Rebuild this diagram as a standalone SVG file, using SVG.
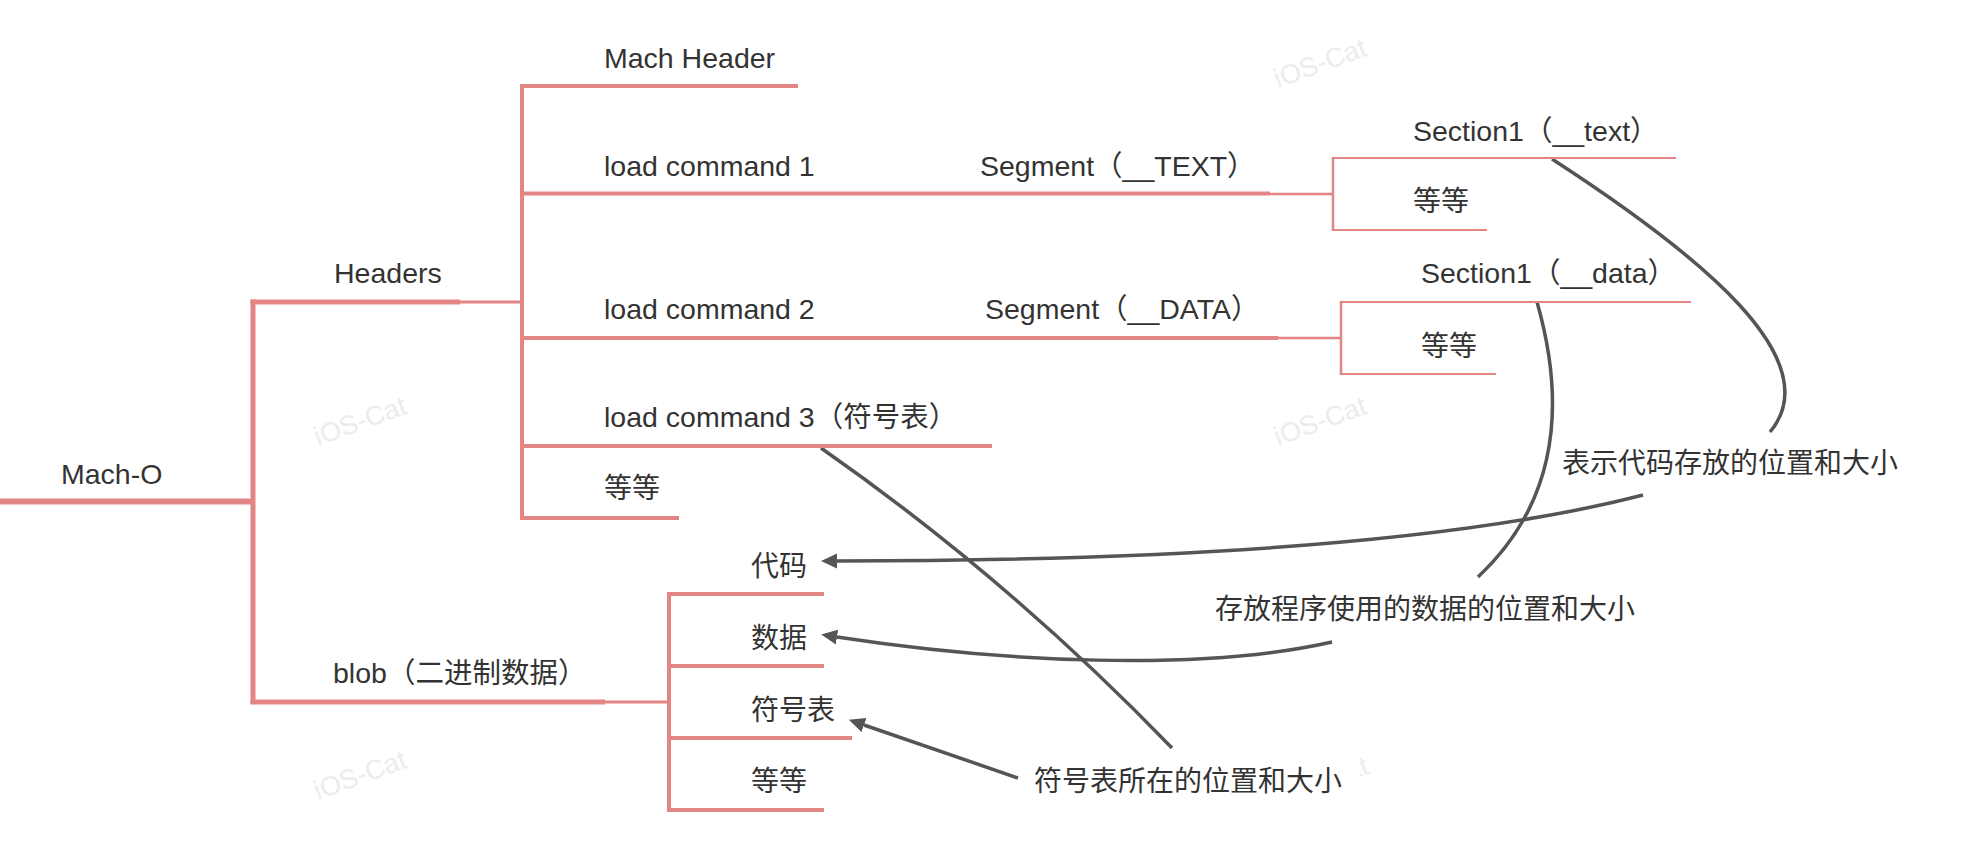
<svg xmlns="http://www.w3.org/2000/svg" width="1966" height="864" viewBox="0 0 1966 864">
<defs>
<style>
.t{font-family:"Liberation Sans","Noto Sans CJK SC",sans-serif;font-size:28.5px;fill:#333333}
.c{font-family:"Noto Sans CJK SC","Liberation Sans",sans-serif;font-size:28px;fill:#333333}
.lb{font-family:"Noto Sans CJK SC","Liberation Sans",sans-serif;font-size:28px;fill:#333333}
.wm{font-family:"Liberation Sans",sans-serif;font-size:27px;fill:#ececec}
.p{stroke:#E38585;fill:none;stroke-linecap:butt}
.g{stroke:#555555;stroke-width:3.5;fill:none}
</style>
<marker id="arr" markerUnits="userSpaceOnUse" markerWidth="18" markerHeight="16" refX="0" refY="8" orient="auto">
<path d="M0,0.5 L16,8 L0,15.5 Z" fill="#555555"/>
</marker>
</defs>
<rect width="1966" height="864" fill="#ffffff"/>
<g id="watermarks">
<text class="wm" x="1278" y="88" transform="rotate(-20 1278 88)">iOS-Cat</text>
<text class="wm" x="318" y="446" transform="rotate(-20 318 446)">iOS-Cat</text>
<text class="wm" x="1278" y="446" transform="rotate(-20 1278 446)">iOS-Cat</text>
<text class="wm" x="318" y="800" transform="rotate(-20 318 800)">iOS-Cat</text>
<text class="wm" x="1280" y="806" transform="rotate(-20 1280 806)">iOS-Cat</text>
</g>
<g id="connectors">
<line class="p" x1="253" y1="299.5" x2="253" y2="704" stroke-width="5"/>
<line class="p" x1="460" y1="302" x2="522" y2="302" stroke-width="3"/>
<line class="p" x1="522" y1="84" x2="522" y2="520" stroke-width="4"/>
<line class="p" x1="605" y1="702" x2="669" y2="702" stroke-width="3"/>
<line class="p" x1="669" y1="592" x2="669" y2="812" stroke-width="4"/>
<line class="p" x1="1270" y1="194" x2="1333" y2="194" stroke-width="2.5"/>
<line class="p" x1="1333" y1="157" x2="1333" y2="231" stroke-width="2.5"/>
<line class="p" x1="1278" y1="338" x2="1341" y2="338" stroke-width="2.5"/>
<line class="p" x1="1341" y1="301" x2="1341" y2="375" stroke-width="2.5"/>
<path class="g" d="M1552,159 C1700,255 1830,360 1770,432"/>
<path class="g" d="M1643,495 C1450,545 1150,561 837,561" marker-end="url(#arr)"/>
<path class="g" d="M1537,302 C1565,400 1560,500 1478,577"/>
<path class="g" d="M1332,642 C1200,672 1000,662 837,637" marker-end="url(#arr)"/>
<path class="g" d="M821,448 Q1010,580 1172,748"/>
<path class="g" d="M1018,778 L864,725" marker-end="url(#arr)"/>
</g>
<g id="node-macho">
<line class="p" x1="0" y1="501.5" x2="253" y2="501.5" stroke-width="6"/>
<text class="t" x="61" y="484">Mach-O</text>
</g>
<g id="node-headers">
<line class="p" x1="250.5" y1="302" x2="460" y2="302" stroke-width="5"/>
<text class="t" x="334" y="283">Headers</text>
</g>
<g id="node-mach-header">
<line class="p" x1="520" y1="86" x2="798" y2="86" stroke-width="4"/>
<text class="t" x="604" y="68">Mach Header</text>
</g>
<g id="node-lc1">
<line class="p" x1="520" y1="193.5" x2="980" y2="193.5" stroke-width="4"/>
<text class="t" x="604" y="176">load command 1</text>
</g>
<g id="node-seg-text">
<line class="p" x1="980" y1="193.5" x2="1270" y2="193.5" stroke-width="4"/>
<text class="t" x="980" y="176">Segment（__TEXT）</text>
</g>
<g id="node-sec-text">
<line class="p" x1="1333" y1="158" x2="1676" y2="158" stroke-width="2"/>
<text class="t" x="1413" y="141">Section1（__text）</text>
</g>
<g id="node-sec-text-etc">
<line class="p" x1="1333" y1="230" x2="1487" y2="230" stroke-width="2"/>
<text class="c" x="1413" y="211">等等</text>
</g>
<g id="node-lc2">
<line class="p" x1="520" y1="338" x2="984" y2="338" stroke-width="4"/>
<text class="t" x="604" y="319">load command 2</text>
</g>
<g id="node-seg-data">
<line class="p" x1="984" y1="338" x2="1278" y2="338" stroke-width="4"/>
<text class="t" x="985" y="319">Segment（__DATA）</text>
</g>
<g id="node-sec-data">
<line class="p" x1="1341" y1="302" x2="1691" y2="302" stroke-width="2"/>
<text class="t" x="1421" y="283">Section1（__data）</text>
</g>
<g id="node-sec-data-etc">
<line class="p" x1="1341" y1="374" x2="1496" y2="374" stroke-width="2"/>
<text class="c" x="1421" y="356">等等</text>
</g>
<g id="node-lc3">
<line class="p" x1="520" y1="446" x2="992" y2="446" stroke-width="4"/>
<text class="t" x="604" y="427">load command 3（符号表）</text>
</g>
<g id="node-headers-etc">
<line class="p" x1="520" y1="518" x2="679" y2="518" stroke-width="4"/>
<text class="c" x="604" y="498">等等</text>
</g>
<g id="node-blob">
<line class="p" x1="250.5" y1="702" x2="605" y2="702" stroke-width="5"/>
<text class="t" x="333" y="683">blob（二进制数据）</text>
</g>
<g id="node-code">
<line class="p" x1="667" y1="594" x2="824" y2="594" stroke-width="4"/>
<text class="c" x="751" y="576">代码</text>
</g>
<g id="node-data">
<line class="p" x1="667" y1="666" x2="824" y2="666" stroke-width="4"/>
<text class="c" x="751" y="648">数据</text>
</g>
<g id="node-symtab">
<line class="p" x1="667" y1="738" x2="852" y2="738" stroke-width="4"/>
<text class="c" x="751" y="720">符号表</text>
</g>
<g id="node-blob-etc">
<line class="p" x1="667" y1="810" x2="824" y2="810" stroke-width="4"/>
<text class="c" x="751" y="791">等等</text>
</g>
<g id="label-code">
<text class="lb" x="1562" y="473">表示代码存放的位置和大小</text>
</g>
<g id="label-data">
<text class="lb" x="1215" y="619">存放程序使用的数据的位置和大小</text>
</g>
<g id="label-symtab">
<rect x="1024" y="749" width="336" height="57" fill="#ffffff"/>
<text class="lb" x="1034" y="791">符号表所在的位置和大小</text>
</g>
</svg>
